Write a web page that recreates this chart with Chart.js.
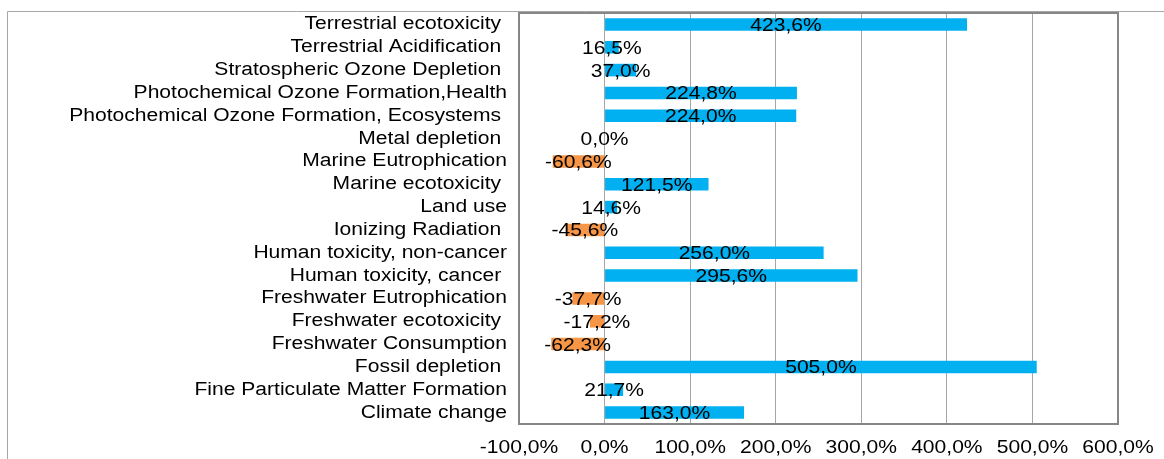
<!DOCTYPE html>
<html>
<head>
<meta charset="utf-8">
<script src="https://cdn.jsdelivr.net/npm/chart.js@4/dist/chart.umd.min.js"></script>
<style>
    html, body { margin: 0; padding: 0; background: #fff; }
    canvas { display: block; }
</style>
</head>
<body>
<canvas id="chart" width="1164" height="459"></canvas>
<script>
'use strict';

// categories, top to bottom (trailing spaces are in the source labels)
var categories = [
    'Terrestrial ecotoxicity ',
    'Terrestrial Acidification ',
    'Stratospheric Ozone Depletion ',
    'Photochemical Ozone Formation,Health',
    'Photochemical Ozone Formation, Ecosystems ',
    'Metal depletion ',
    'Marine Eutrophication',
    'Marine ecotoxicity ',
    'Land use',
    'Ionizing Radiation ',
    'Human toxicity, non-cancer',
    'Human toxicity, cancer ',
    'Freshwater Eutrophication',
    'Freshwater ecotoxicity ',
    'Freshwater Consumption',
    'Fossil depletion ',
    'Fine Particulate Matter Formation',
    'Climate change'
];

// relative change, percent
var changes = [
    423.6, 16.5, 37.0, 224.8, 224.0, 0.0, -60.6, 121.5, 14.6,
    -45.6, 256.0, 295.6, -37.7, -17.2, -62.3, 505.0, 21.7, 163.0
];

var tickValues = [-100, 0, 100, 200, 300, 400, 500, 600];

var POS_COLOR = '#00B0F0';
var NEG_COLOR = '#F79646';
var FONT = '18px "Liberation Sans", Arial, sans-serif';
var STRETCH = 1.17; // source picture is stretched sideways

var fmtPct = function(v) {
    return v.toFixed(1).replace('.', ',') + '%';
};

var drawText = function(ctx, text, x, y, align) {
    ctx.save();
    ctx.translate(x, y);
    ctx.scale(STRETCH, 1);
    ctx.font = FONT;
    ctx.fillStyle = '#000';
    ctx.textAlign = align;
    ctx.textBaseline = 'middle';
    ctx.fillText(text, 0, 0);
    ctx.restore();
};

var framePlugin = {
    id: 'frame',
    beforeDraw: function(chart) {
        var ctx = chart.ctx;
        ctx.save();
        ctx.strokeStyle = '#a6a6a6';
        ctx.lineWidth = 1;
        ctx.beginPath();
        ctx.moveTo(7.5, 459);
        ctx.lineTo(7.5, 11.5);
        ctx.lineTo(1164, 11.5);
        ctx.stroke();
        ctx.restore();
    },
    afterDatasetsDraw: function(chart) {
        var ctx = chart.ctx;
        var xs = chart.scales.x;
        var ys = chart.scales.y;
        var area = chart.chartArea;

        // plot border
        ctx.save();
        ctx.strokeStyle = '#868686';
        ctx.lineWidth = 2;
        ctx.strokeRect(area.left, area.top, area.right - area.left, area.bottom - area.top);
        ctx.restore();

        // category labels
        categories.forEach(function(label, i) {
            drawText(ctx, label, area.left - 12, ys.getPixelForTick(i), 'right');
        });

        // value axis labels
        tickValues.forEach(function(v) {
            drawText(ctx, fmtPct(v), xs.getPixelForValue(v), area.bottom + 24, 'center');
        });

        // data labels centred on each bar
        var meta = chart.getDatasetMeta(0);
        meta.data.forEach(function(bar, i) {
            var cx = (bar.x + bar.base) / 2;
            drawText(ctx, fmtPct(changes[i]), cx, bar.y + 1.5, 'center');
        });
    }
};

new Chart(document.getElementById('chart'), {
    type: 'bar',
    data: {
        labels: categories,
        datasets: [{
            data: changes,
            backgroundColor: changes.map(function(v) { return v < 0 ? NEG_COLOR : POS_COLOR; }),
            borderWidth: 0,
            categoryPercentage: 1,
            barPercentage: 0.55
        }]
    },
    options: {
        indexAxis: 'y',
        responsive: false,
        animation: false,
        layout: {
            padding: { left: 519, right: 46, top: 13, bottom: 35 }
        },
        plugins: {
            legend: { display: false },
            tooltip: { enabled: false }
        },
        scales: {
            x: {
                min: -100,
                max: 600,
                ticks: { stepSize: 100, display: false },
                grid: { color: '#a6a6a6', lineWidth: 1, drawTicks: false },
                border: { display: false },
                afterFit: function(scale) { scale.height = 0; }
            },
            y: {
                ticks: { display: false },
                grid: { display: false, drawTicks: false },
                border: { display: false },
                afterFit: function(scale) { scale.width = 0; }
            }
        }
    },
    plugins: [framePlugin]
});
</script>
</body>
</html>
